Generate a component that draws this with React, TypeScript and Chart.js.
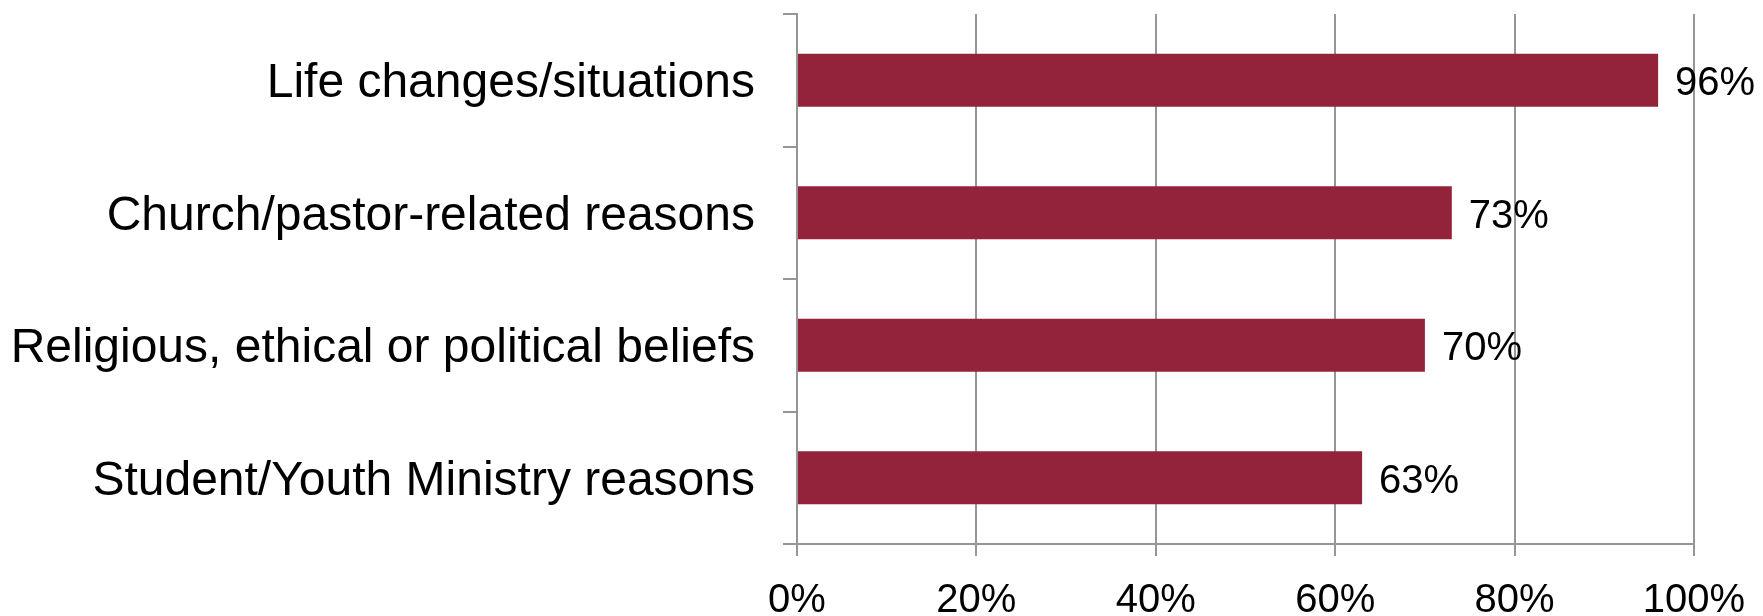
import React, { useEffect, useRef } from "react";
import { Chart, registerables } from "chart.js";

Chart.register(...registerables);

const categories = [
  "Life changes/situations",
  "Church/pastor-related reasons",
  "Religious, ethical or political beliefs",
  "Student/Youth Ministry reasons",
];
const values = [96, 73, 70, 63];
const tickValues = [0, 20, 40, 60, 80, 100];

const BAR_COLOR = "#93233A";
const GRID_COLOR = "#969696";
const FONT = "'Liberation Sans', Arial, sans-serif";

const dataLabelPlugin = {
  id: "dataLabels",
  afterDatasetsDraw(chart: any) {
    const ctx = chart.ctx;
    const meta = chart.getDatasetMeta(0);
    ctx.save();
    ctx.font = `40px ${FONT}`;
    ctx.fillStyle = "#000000";
    ctx.textAlign = "left";
    ctx.textBaseline = "alphabetic";
    meta.data.forEach((bar: any, i: number) => {
      const v = chart.data.datasets[0].data[i];
      ctx.fillText(v + "%", bar.x + 17, bar.y + 15);
    });
    ctx.restore();
  },
};

export default function App() {
  const ref = useRef<HTMLCanvasElement | null>(null);

  useEffect(() => {
    document.body.style.margin = "0";
    if (!ref.current) return;
    const chart = new Chart(ref.current, {
      type: "bar",
      data: {
        labels: categories,
        datasets: [
          {
            data: values,
            backgroundColor: BAR_COLOR,
            borderWidth: 0,
            barPercentage: 0.4,
            categoryPercentage: 1,
          },
        ],
      },
      options: {
        indexAxis: "y",
        animation: false,
        responsive: true,
        maintainAspectRatio: false,
        layout: { padding: { top: 14, right: 69, left: 0, bottom: 0 } },
        plugins: {
          legend: { display: false },
          tooltip: { enabled: false },
        },
        scales: {
          x: {
            min: 0,
            max: 100,
            afterFit: (scale: any) => {
              scale.height = 72;
              scale.paddingLeft = 0;
              scale.paddingRight = 0;
            },
            afterBuildTicks: (scale: any) => {
              scale.ticks = tickValues.map((v) => ({ value: v }));
            },
            ticks: {
              stepSize: 20,
              padding: 21,
              color: "#000000",
              font: { family: FONT, size: 40 },
              callback: (v: any) => v + "%",
              maxRotation: 0,
            },
            grid: {
              color: GRID_COLOR,
              lineWidth: 2,
              drawTicks: true,
              tickLength: 12,
            },
            border: { display: true, color: GRID_COLOR, width: 2 },
          },
          y: {
            afterFit: (scale: any) => {
              scale.width = 797;
              scale.paddingTop = 0;
              scale.paddingBottom = 0;
            },
            ticks: {
              padding: 28,
              labelOffset: 4,
              color: "#000000",
              font: { family: FONT, size: 48 },
            },
            grid: {
              offset: true,
              drawOnChartArea: false,
              drawTicks: true,
              tickLength: 14,
              color: GRID_COLOR,
              lineWidth: 2,
            },
            border: { display: true, color: GRID_COLOR, width: 2 },
          },
        },
      },
      plugins: [dataLabelPlugin],
    });
    return () => chart.destroy();
  }, []);

  return (
    <div style={{ position: "absolute", left: 0, top: 0, width: 1763, height: 616 }}>
      <canvas ref={ref} />
    </div>
  );
}
